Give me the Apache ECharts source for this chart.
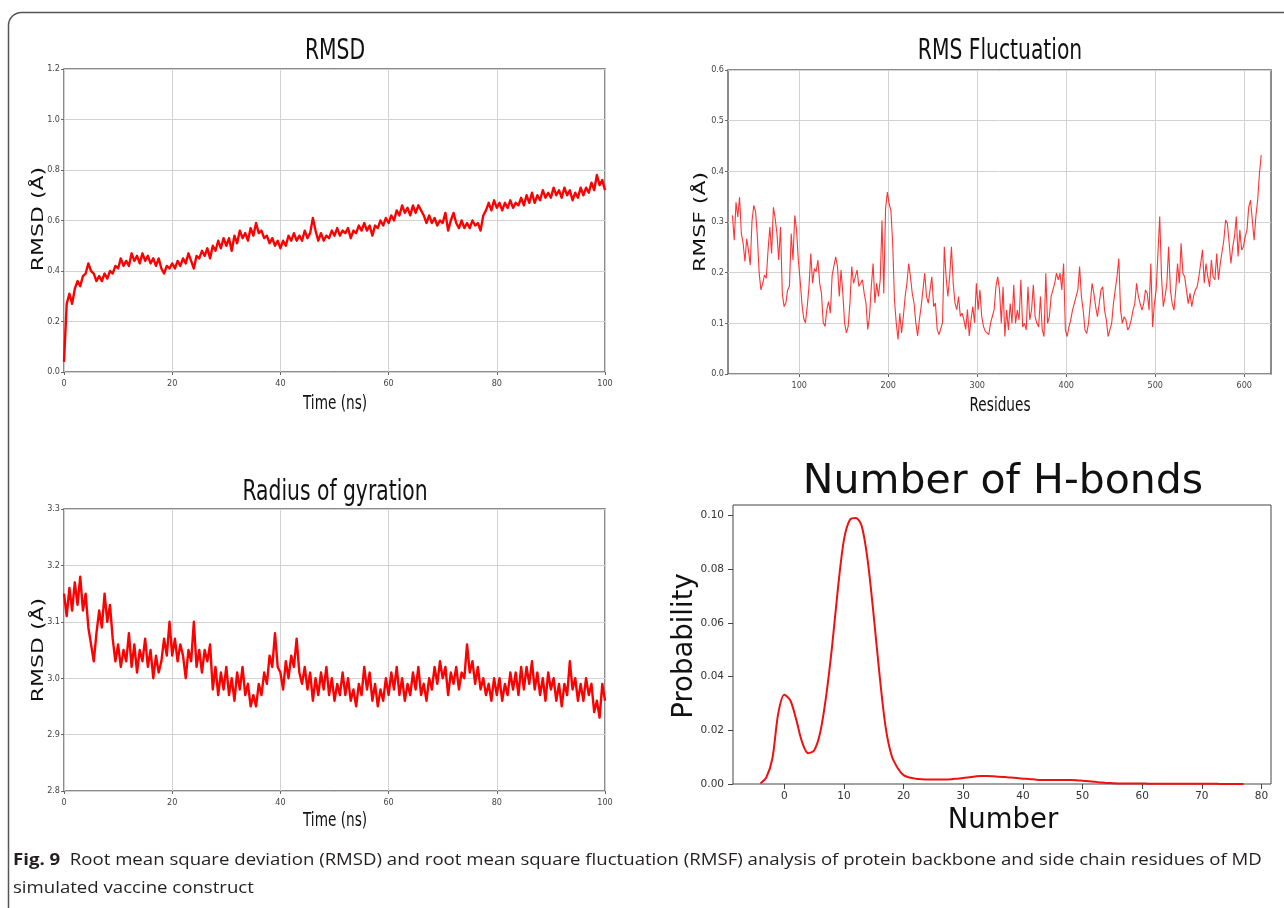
<!DOCTYPE html>
<html>
<head>
<meta charset="utf-8">
<script src="https://cdn.jsdelivr.net/npm/echarts@6.0.0/dist/echarts.min.js"></script>
<style>
  html, body { margin: 0; padding: 0; background: #fff; }
  #chart { width: 1284px; height: 908px; }
</style>
</head>
<body>
<div id="chart"></div>
<script>
// RMSD of the backbone, one frame every 0.5 ns
const rmsdStep = 0.5;
const rmsdValues = [
  0.04,0.27,0.31,0.27,0.33,0.36,0.34,0.38,0.39,0.43,
  0.40,0.39,0.36,0.38,0.36,0.39,0.37,0.40,0.39,0.42,
  0.41,0.45,0.42,0.44,0.42,0.47,0.44,0.46,0.43,0.47,
  0.44,0.46,0.43,0.45,0.42,0.45,0.41,0.39,0.42,0.41,
  0.43,0.41,0.44,0.42,0.45,0.43,0.47,0.44,0.41,0.46,
  0.45,0.48,0.46,0.49,0.45,0.50,0.48,0.52,0.49,0.53,
  0.50,0.53,0.48,0.54,0.51,0.56,0.53,0.55,0.52,0.57,
  0.54,0.59,0.55,0.56,0.53,0.54,0.51,0.53,0.50,0.52,
  0.49,0.52,0.50,0.54,0.52,0.55,0.52,0.54,0.52,0.56,
  0.53,0.55,0.61,0.56,0.52,0.55,0.52,0.54,0.53,0.56,
  0.54,0.57,0.54,0.56,0.55,0.57,0.53,0.56,0.55,0.58,
  0.56,0.59,0.56,0.58,0.54,0.58,0.57,0.60,0.58,0.61,
  0.59,0.62,0.60,0.64,0.62,0.66,0.63,0.65,0.62,0.66,
  0.63,0.66,0.64,0.62,0.59,0.62,0.59,0.61,0.58,0.60,
  0.59,0.63,0.56,0.60,0.63,0.59,0.57,0.60,0.57,0.59,
  0.57,0.60,0.58,0.59,0.56,0.62,0.64,0.67,0.64,0.68,
  0.65,0.67,0.64,0.67,0.65,0.68,0.65,0.67,0.66,0.69,
  0.66,0.70,0.67,0.71,0.67,0.70,0.68,0.72,0.69,0.71,
  0.69,0.73,0.70,0.72,0.69,0.73,0.70,0.72,0.68,0.71,
  0.69,0.73,0.70,0.73,0.71,0.75,0.72,0.78,0.74,0.76,
  0.72
];

// radius of gyration, same frames
const rgValues = [
  3.15,3.11,3.16,3.12,3.17,3.13,3.18,3.12,3.15,3.09,
  3.06,3.03,3.08,3.12,3.09,3.15,3.10,3.13,3.07,3.03,
  3.06,3.02,3.05,3.03,3.08,3.02,3.06,3.01,3.05,3.03,
  3.07,3.02,3.05,3.00,3.04,3.01,3.03,3.07,3.04,3.10,
  3.04,3.07,3.03,3.06,3.04,3.00,3.05,3.03,3.10,3.02,
  3.05,3.01,3.05,3.03,3.06,2.98,3.02,2.97,3.01,2.98,
  3.02,2.97,3.00,2.96,3.01,2.98,3.02,2.97,2.99,2.95,
  2.97,2.95,2.99,2.97,3.01,2.99,3.04,3.02,3.08,3.02,
  3.01,2.98,3.03,3.00,3.04,3.02,3.07,3.01,2.99,3.02,
  2.98,3.01,2.96,3.00,2.97,3.01,2.98,3.02,2.97,3.00,
  2.96,2.99,2.97,3.01,2.97,3.00,2.96,2.98,2.95,2.99,
  2.97,3.02,2.98,3.01,2.96,2.99,2.95,2.98,2.96,3.00,
  2.97,3.01,2.98,3.02,2.97,3.00,2.96,2.99,2.97,3.01,
  2.98,3.02,2.97,2.99,2.96,3.00,2.98,3.02,2.99,3.03,
  3.00,3.02,2.97,3.01,2.99,3.02,2.98,3.01,3.00,3.06,
  3.01,3.03,2.99,3.02,2.98,3.00,2.97,2.99,2.96,3.00,
  2.97,3.00,2.96,2.99,2.97,3.01,2.98,3.01,2.97,3.02,
  2.98,3.02,2.99,3.03,2.98,3.01,2.97,3.00,2.96,3.01,
  2.98,3.00,2.96,2.99,2.95,2.99,2.97,3.03,2.98,3.00,
  2.96,2.99,2.96,3.00,2.97,2.99,2.94,2.96,2.93,2.99,
  2.96
];

// RMSF per residue, residues 25..619 every 2
const rmsfStart = 25;
const rmsfStep = 2;
const rmsfValues = [
  0.313,0.264,0.339,0.310,0.349,0.277,0.258,0.222,0.267,
  0.244,0.215,0.303,0.333,0.320,0.271,0.199,0.166,0.179,
  0.195,0.189,0.244,0.290,0.238,0.329,0.307,0.277,0.225,
  0.290,0.159,0.133,0.140,0.166,0.173,0.277,0.225,0.313,
  0.284,0.225,0.186,0.140,0.110,0.101,0.133,0.173,0.238,
  0.179,0.208,0.202,0.225,0.179,0.159,0.101,0.094,0.127,0.143,
  0.120,0.195,0.192,0.231,0.212,0.153,0.205,0.159,0.101,
  0.081,0.094,0.140,0.212,0.179,0.192,0.205,0.173,0.179,
  0.186,0.159,0.140,0.088,0.114,0.173,0.218,0.140,0.179,0.153,
  0.186,0.303,0.159,0.326,0.359,0.336,0.323,0.258,0.146,0.101,
  0.068,0.120,0.081,0.114,0.153,0.179,0.218,0.192,0.159,
  0.140,0.101,0.075,0.107,0.133,0.166,0.199,0.153,0.140,
  0.166,0.192,0.133,0.140,0.088,0.078,0.075,0.101,
  0.251,0.192,0.153,0.192,0.251,0.179,0.140,0.127,0.153,
  0.114,0.120,0.107,0.088,0.127,0.075,0.107,0.133,
  0.101,0.179,0.127,0.166,0.114,0.094,0.084,0.081,
  0.078,0.101,0.114,0.127,0.173,0.192,0.166,
  0.100,0.172,0.074,0.126,0.087,0.139,0.100,0.176,0.100,0.126,0.107,0.186,0.093,
  0.100,0.087,0.172,0.107,0.126,0.176,0.113,0.100,0.093,0.153,0.087,0.074,
  0.199,0.100,0.113,0.153,0.166,0.179,0.199,0.186,0.199,0.166,0.218,
  0.087,0.074,0.093,0.107,0.126,0.139,0.139,0.166,0.212,0.153,0.126,0.087,
  0.080,0.100,0.139,0.179,0.159,0.133,0.113,0.139,0.166,0.172,0.126,0.107,
  0.074,0.087,0.100,0.139,0.166,0.192,0.228,0.126,0.100,
  0.113,0.107,0.087,0.093,0.107,0.126,0.139,0.179,0.153,0.139,0.126,0.139,0.166,0.159,0.126,
  0.218,0.093,0.139,0.166,0.166,0.311,0.192,0.133,0.153,0.179,0.251,0.166,0.139,0.126,0.166,
  0.218,0.179,0.258,0.199,0.192,0.166,0.139,0.159,0.133,0.153,0.166,0.172,0.192,0.218,0.245,0.179,0.218,
  0.192,0.172,0.225,0.192,0.186,0.238,0.186,0.218,0.218,0.264,0.304,0.297,0.258,0.218,0.251,0.271,
  0.311,0.232,0.284,0.245,0.251,0.271,0.284,0.330,0.343,0.304,0.264,0.311,0.343,0.395,0.432
];

// H-bond count density, Number = -4..77
const hbondStart = -4;
const hbondValues = [
  0.0002,0.0025,0.0095,0.0265,0.0333,0.0312,0.0240,0.0155,0.0115,0.0125,
  0.0190,0.0325,0.0510,0.0730,0.0910,0.0985,0.0992,0.0960,0.0830,0.0625,
  0.0400,0.0210,0.0105,0.0060,0.0033,0.0024,0.0020,0.0018,0.0017,0.0017,
  0.0017,0.0017,0.0018,0.0020,0.0022,0.0025,0.0028,0.0030,0.0030,0.0029,
  0.0027,0.0026,0.0024,0.0022,0.0020,0.0019,0.0017,0.0015,0.0015,0.0015,
  0.0015,0.0015,0.0015,0.0014,0.0012,0.0010,0.0008,0.0006,0.0004,0.0003,
  0.0002,0.0002,0.0002,0.0002,0.0002,0.0001,0.0001,0.0001,0.0001,0.0001,
  0.0001,0.0001,0.0001,0.0001,0.0001,0.0001,0.0001,0.0000,0.0000,0.0000,
  0.0000,0.0000
];

const residueTicks = [100, 200, 300, 400, 500, 600];
const numberTicks = [0, 10, 20, 30, 40, 50, 60, 70, 80];
const probTicks = [0, 0.02, 0.04, 0.06, 0.08, 0.10];

const chart = echarts.init(document.getElementById('chart'), null, { renderer: 'canvas' });

const smallFont = "'DejaVu Sans Condensed', 'Liberation Sans Narrow', sans-serif";
const noLine = { show: false, onZero: false };
const gridLine = { show: true, lineStyle: { color: '#d2d2d2', width: 1 } };
const smallTick = { show: true, length: 3, lineStyle: { color: '#666' } };
const smallLabel = (margin, digits) => ({
  fontSize: 9, color: '#444', fontFamily: smallFont, margin: margin,
  formatter: v => digits == null ? String(v) : v.toFixed(digits)
});
const frame = { show: true, borderColor: '#666', borderWidth: 1.5, backgroundColor: '#fff' };

const timeAxis = (gridIndex) => ({
  type: 'value', gridIndex, min: 0, max: 100, interval: 20,
  axisLine: noLine, axisTick: smallTick,
  axisLabel: smallLabel(7), splitLine: gridLine
});

// titles and axis names (the figure is squeezed horizontally, so texts get scaleX)
const txt = (text, x, y, size, sx) => ({
  type: 'text', x, y, scaleX: sx, silent: true,
  style: { text, fontSize: size, fontFamily: 'DejaVu Sans', fill: '#111', align: 'center', verticalAlign: 'middle' }
});
const vtxt = (text, x, y, size, sy) => ({
  type: 'text', x, y, rotation: Math.PI / 2, scaleY: sy, silent: true,
  style: { text, fontSize: size, fontFamily: 'DejaVu Sans', fill: '#111', align: 'center', verticalAlign: 'middle' }
});

const captionFont = { fontSize: 15.5, fontFamily: 'Open Sans', fill: '#231f20' };

const option = {
  animation: false,
  backgroundColor: '#fff',
  grid: [
    Object.assign({ left: 64, top: 69, width: 541, height: 303 }, frame),
    Object.assign({ left: 728, top: 70, width: 543, height: 304 }, frame),
    Object.assign({ left: 64, top: 509, width: 541, height: 282 }, frame),
    { left: 733, top: 505, width: 538, height: 279, show: true, borderColor: '#444', borderWidth: 1, backgroundColor: '#fff' }
  ],
  xAxis: [
    timeAxis(0),
    {
      type: 'value', gridIndex: 1, min: 20, max: 630, splitNumber: 6,
      axisLine: noLine,
      axisTick: Object.assign({ customValues: residueTicks }, smallTick),
      axisLabel: Object.assign({ customValues: residueTicks }, smallLabel(7)),
      splitLine: gridLine
    },
    timeAxis(2),
    {
      type: 'value', gridIndex: 3, min: -8.6, max: 81.6,
      axisLine: noLine,
      axisTick: { show: true, length: 5, customValues: numberTicks, lineStyle: { color: '#444' } },
      axisLabel: { customValues: numberTicks, fontSize: 10.5, color: '#333', fontFamily: 'DejaVu Sans', margin: 7 },
      splitLine: { show: false }
    }
  ],
  yAxis: [
    {
      type: 'value', gridIndex: 0, min: 0, max: 1.2, interval: 0.2,
      axisLine: noLine, axisTick: smallTick,
      axisLabel: smallLabel(4, 1), splitLine: gridLine
    },
    {
      type: 'value', gridIndex: 1, min: 0, max: 0.6, interval: 0.1,
      axisLine: noLine, axisTick: smallTick,
      axisLabel: smallLabel(4, 1), splitLine: gridLine
    },
    {
      type: 'value', gridIndex: 2, min: 2.8, max: 3.3, interval: 0.1,
      axisLine: noLine, axisTick: smallTick,
      axisLabel: smallLabel(4, 1), splitLine: gridLine
    },
    {
      type: 'value', gridIndex: 3, min: 0, max: 0.104,
      axisLine: noLine,
      axisTick: { show: true, length: 5, customValues: probTicks, lineStyle: { color: '#444' } },
      axisLabel: {
        customValues: probTicks, fontSize: 10.5, color: '#333', fontFamily: 'DejaVu Sans', margin: 9,
        formatter: v => v.toFixed(2)
      },
      splitLine: { show: false }
    }
  ],
  series: [
    {
      name: 'RMSD', type: 'line', xAxisIndex: 0, yAxisIndex: 0, showSymbol: false,
      data: rmsdValues.map((v, i) => [i * rmsdStep, v]),
      lineStyle: { color: '#ff0000', width: 2.4, join: 'round' }
    },
    {
      name: 'RMSF', type: 'line', xAxisIndex: 1, yAxisIndex: 1, showSymbol: false,
      data: rmsfValues.map((v, i) => [rmsfStart + i * rmsfStep, v]),
      lineStyle: { color: '#ff1010', width: 1.1, opacity: 0.85 }
    },
    {
      name: 'Rg', type: 'line', xAxisIndex: 2, yAxisIndex: 2, showSymbol: false,
      data: rgValues.map((v, i) => [i * rmsdStep, v]),
      lineStyle: { color: '#ff0000', width: 2.4, join: 'round' }
    },
    {
      name: 'H-bonds', type: 'line', xAxisIndex: 3, yAxisIndex: 3, showSymbol: false,
      smooth: 0.3,
      data: hbondValues.map((v, i) => [hbondStart + i, v]),
      lineStyle: { color: '#ee1111', width: 2 }
    }
  ],
  graphic: [
    {
      type: 'rect', silent: true, z: -10,
      shape: { x: 8.5, y: 12.5, width: 1320, height: 940, r: 13 },
      style: { fill: 'none', stroke: '#555', lineWidth: 1.5 }
    },
    txt('RMSD', 335, 51, 29, 0.7),
    txt('Time (ns)', 335, 404, 19.5, 0.7),
    vtxt('RMSD (Å)', 38.5, 219, 22, 0.7),

    txt('RMS Fluctuation', 1000, 51, 29, 0.7),
    txt('Residues', 1000, 406, 19.5, 0.7),
    vtxt('RMSF (Å)', 701, 222, 22, 0.7),

    txt('Radius of gyration', 335, 492, 29, 0.7),
    txt('Time (ns)', 335, 821, 19.5, 0.7),
    vtxt('RMSD (Å)', 38.5, 650, 22, 0.7),

    txt('Number of H-bonds', 1003, 482, 41, 1),
    txt('Number', 1003, 821, 27.5, 1),
    vtxt('Probability', 685, 646, 27.5, 1),

    {
      type: 'text', x: 13, y: 861, scaleX: 1.2, silent: true,
      style: Object.assign({
        text: '{b|Fig. 9}  Root mean square deviation (RMSD) and root mean square fluctuation (RMSF) analysis of protein backbone and side chain residues of MD',
        verticalAlign: 'middle',
        rich: { b: Object.assign({ fontWeight: 'bold' }, captionFont) }
      }, captionFont)
    },
    {
      type: 'text', x: 13, y: 889, scaleX: 1.2, silent: true,
      style: Object.assign({ text: 'simulated vaccine construct', verticalAlign: 'middle' }, captionFont)
    }
  ]
};

chart.setOption(option);
window.addEventListener('resize', () => chart.resize());
</script>
</body>
</html>
